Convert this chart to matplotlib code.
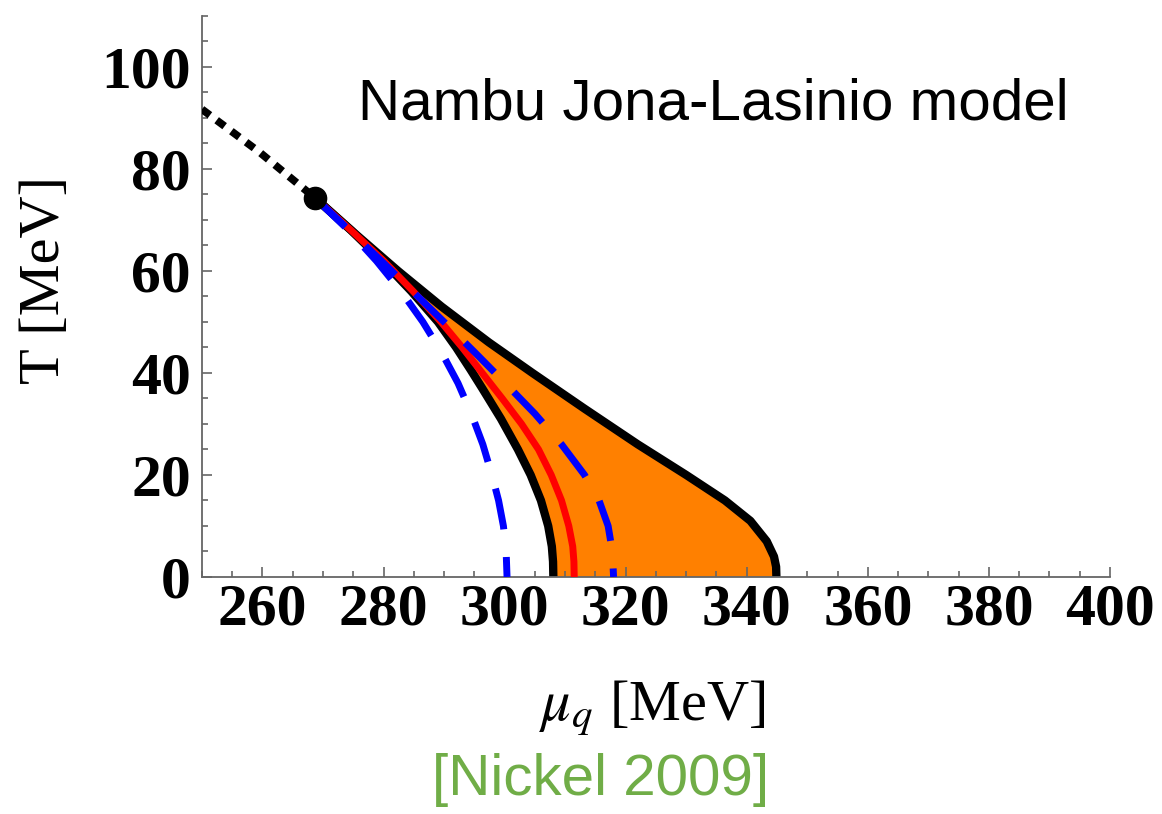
"""
QCD phase diagram in the Nambu Jona-Lasinio model (Nickel 2009):
first-order line ending in a critical point, the inhomogeneous
(orange) window and the approximate boundaries.
"""

import matplotlib.pyplot as plt
from matplotlib.ticker import FixedLocator, MultipleLocator

# ---------------------------------------------------------------------------
# Data (mu_q in MeV, T in MeV)
# ---------------------------------------------------------------------------
cp_mu, cp_T = 268.7, 74.3

# first-order line above the critical point (dotted)
first_order_mu = [250.0, 259.5, 268.7]
first_order_T = [91.7, 83.3, 74.3]

# inhomogeneous phase: left (lower) boundary
left_T = [74.3, 68.0, 62.0, 56.0, 50.0, 45.0, 40.6, 37.0, 31.0, 25.0, 20.0, 15.0, 10.0, 6.0, 3.0, 0.0]
left_mu = [268.7, 274.6, 279.8, 284.6, 289.0, 292.0, 294.4, 296.3, 299.4, 302.2, 304.3, 306.0, 307.2, 307.8, 308.0, 308.05]

# inhomogeneous phase: right (upper) boundary
right_T = [74.3, 67.0, 60.0, 53.0, 46.0, 40.0, 33.0, 26.0, 20.0, 15.0, 11.0, 7.0, 4.0, 2.0, 0.0]
right_mu = [268.7, 275.6, 282.4, 289.6, 297.4, 304.6, 313.2, 322.0, 330.0, 336.4, 340.6, 343.3, 344.5, 344.85, 344.9]

# homogeneous first-order transition (red)
red_T = [74.3, 68.0, 62.0, 56.0, 50.0, 45.0, 40.6, 35.0, 30.0, 25.0, 20.0, 15.0, 10.0, 6.0, 3.0, 0.0]
red_mu = [268.7, 274.6, 280.0, 284.9, 289.5, 293.0, 295.9, 299.6, 302.8, 305.6, 307.7, 309.4, 310.6, 311.25, 311.45, 311.5]

# spinodals (blue dashed)
spin_left_T = [74.3, 68.0, 62.0, 56.0, 50.0, 44.0, 38.0, 32.0, 26.0, 20.0, 15.0, 10.0, 5.0, 0.0]
spin_left_mu = [268.7, 274.2, 278.8, 282.9, 286.5, 289.6, 292.3, 294.5, 296.4, 297.9, 299.0, 299.8, 300.25, 300.4]
spin_right_T = [74.3, 68.0, 62.0, 56.0, 50.0, 44.0, 38.0, 32.0, 26.0, 20.0, 15.0, 10.0, 5.0, 0.0]
spin_right_mu = [268.7, 274.3, 279.6, 284.8, 290.0, 295.1, 300.1, 305.0, 309.4, 313.2, 315.6, 317.1, 317.8, 318.0]

x_major = [260, 280, 300, 320, 340, 360, 380, 400]
y_major = [0, 20, 40, 60, 80, 100]

# ---------------------------------------------------------------------------
# Figure
# ---------------------------------------------------------------------------
plt.rcParams["mathtext.fontset"] = "stix"

fig = plt.figure(figsize=(11.62, 8.14), dpi=100)
ax = fig.add_axes([0.1738, 0.2912, 0.7814, 0.6892])

# orange window between the two black boundaries
poly_mu = list(left_mu) + list(right_mu[::-1])
poly_T = list(left_T) + list(right_T[::-1])
ax.fill(poly_mu, poly_T, color="#FF8000", lw=0, zorder=1)

ax.plot(left_mu, left_T, color="black", lw=6, solid_joinstyle="round", zorder=2)
ax.plot(right_mu, right_T, color="black", lw=6, solid_joinstyle="round", zorder=2)
ax.plot(red_mu, red_T, color="#FF0000", lw=5, solid_joinstyle="round", zorder=3)
ax.plot(spin_left_mu, spin_left_T, color="#0000FF", lw=5,
        ls=(0, (6, 4)), dash_capstyle="butt", zorder=4)
ax.plot(spin_right_mu, spin_right_T, color="#0000FF", lw=5,
        ls=(0, (6, 4)), dash_capstyle="butt", zorder=4)
ax.plot(first_order_mu, first_order_T, color="black", lw=5.5,
        ls=(0, (1.3, 1.1)), dash_capstyle="butt", zorder=4)
ax.plot([cp_mu], [cp_T], "o", color="black", ms=16, zorder=5)

ax.set_xlim(250, 400)
ax.set_ylim(0, 110)

for side in ("top", "right"):
    ax.spines[side].set_visible(False)
for side in ("left", "bottom"):
    ax.spines[side].set_color("#666666")
    ax.spines[side].set_linewidth(1.3)

ax.xaxis.set_major_locator(FixedLocator(x_major))
ax.xaxis.set_minor_locator(MultipleLocator(5))
ax.yaxis.set_major_locator(FixedLocator(y_major))
ax.yaxis.set_minor_locator(MultipleLocator(5))
ax.tick_params(which="both", direction="in", color="#666666", width=1.2)
ax.tick_params(which="major", length=7.5)
ax.tick_params(which="minor", length=4)
ax.tick_params(axis="x", which="major", pad=5)
ax.tick_params(axis="y", which="major", pad=8)

for lab in ax.get_xticklabels() + ax.get_yticklabels():
    lab.set_fontfamily("Liberation Serif")
    lab.set_fontweight("bold")
    lab.set_fontsize(43)

fig.text(713 / 1162, 1 - 120 / 814, "Nambu Jona-Lasinio model",
         family="Liberation Sans", fontsize=42, ha="center", va="baseline")

fig.text(652 / 1162, 1 - 720 / 814, r"$\mu_q$ [MeV]",
         family="Liberation Serif", fontsize=42, ha="center", va="baseline")
fig.text(45 / 1162, 1 - 280 / 814, "T [MeV]", family="Liberation Serif",
         fontsize=42, rotation=90, ha="center", va="center")
fig.text(601 / 1162, 1 - 795 / 814, "[Nickel 2009]", family="Liberation Sans",
         fontsize=42, color="#70AD47", ha="center", va="baseline")

fig.savefig("out.png", dpi=100)
